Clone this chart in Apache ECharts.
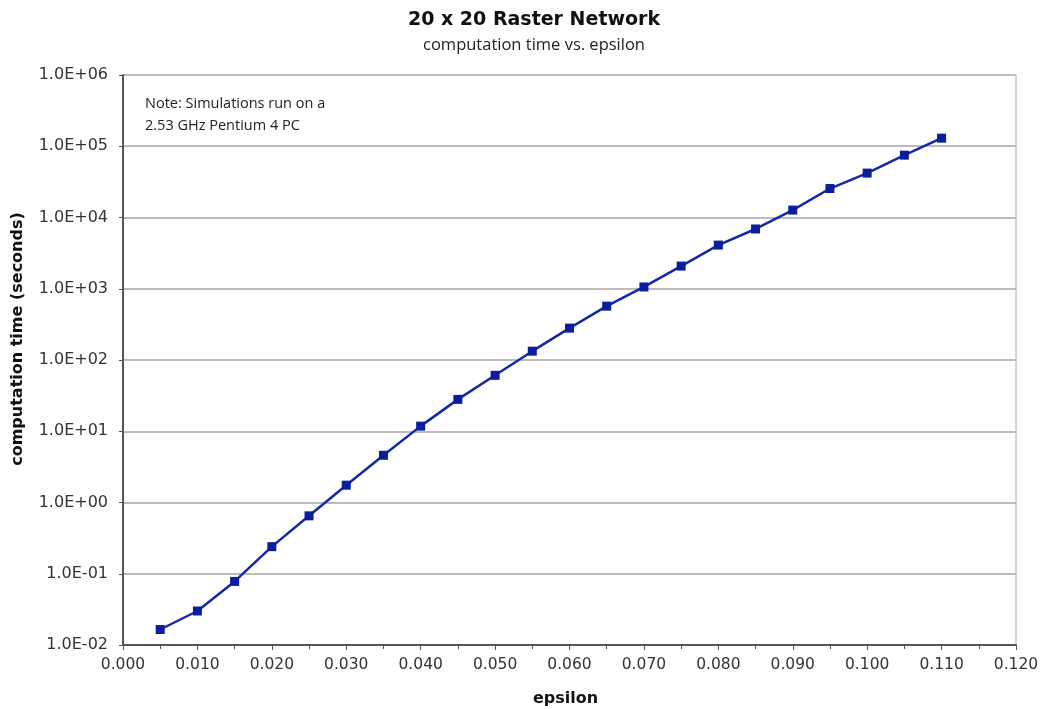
<!DOCTYPE html>
<html><head><meta charset="utf-8">
<script src="https://cdn.jsdelivr.net/npm/echarts@6/dist/echarts.min.js"></script>
<style>html,body{margin:0;padding:0;background:#fff}#c{width:1045px;height:709px}</style>
</head><body><div id="c"></div>
<script>
const epsilon = [0.005,0.010,0.015,0.020,0.025,0.030,0.035,0.040,0.045,0.050,0.055,0.060,0.065,0.070,0.075,0.080,0.085,0.090,0.095,0.100,0.105,0.110];
const computeTime = [0.0165,0.030,0.078,0.24,0.65,1.75,4.6,11.8,28,61,133,280,570,1060,2080,4100,6900,12700,25500,42000,75000,130000];
const titleText = '20 x 20 Raster Network';
const subtitleText = 'computation time vs. epsilon';
const noteLines = ['Note: Simulations run on a', '2.53 GHz Pentium 4 PC'];
const yName = 'computation time (seconds)';
const xName = 'epsilon';

function expFmt(v){
  const e = Math.round(Math.log10(v));
  const m = v / Math.pow(10, e);
  const s = e < 0 ? '-' : '+';
  const a = Math.abs(e);
  return m.toFixed(1) + 'E' + s + (a < 10 ? '0' + a : a);
}

const chart = echarts.init(document.getElementById('c'), null, {renderer:'canvas'});
chart.setOption({
  animation:false,
  backgroundColor:'#fff',
  title:[
    {text:titleText, left:529, top:6, textAlign:'center',
     textStyle:{fontFamily:'DejaVu Sans', fontWeight:'bold', fontSize:19, color:'#111'}},
    {text:subtitleText, left:529, top:32, textAlign:'center',
     textStyle:{fontFamily:'Open Sans', fontWeight:'normal', fontSize:16.5, color:'#222'}}
  ],
  graphic:[
    {type:'text', left:145, top:93, style:{text:noteLines.join('\n'), font:'14.5px "Open Sans"', fill:'#222', lineHeight:22}},
    {type:'text', x:18, y:339, rotation:Math.PI/2,
     style:{text:yName, font:'bold 16px "DejaVu Sans"', fill:'#111', align:'center', verticalAlign:'middle'}}
  ],
  grid:{left:123, right:29, top:75, bottom:64, show:true, borderColor:'#aaa', borderWidth:1,
        outerBoundsMode:'none', containLabel:false},
  xAxis:{
    type:'value', min:0, max:0.12, interval:0.01,
    name:xName, nameLocation:'middle', nameGap:46,
    nameTextStyle:{fontFamily:'DejaVu Sans', fontWeight:'bold', fontSize:16, color:'#111', padding:[0,8,0,0]},
    axisLine:{lineStyle:{color:'#555', width:2}},
    axisTick:{show:true, length:5, lineStyle:{color:'#555'}},
    minorTick:{show:true, splitNumber:2, length:4, lineStyle:{color:'#555'}},
    splitLine:{show:false},
    axisLabel:{fontFamily:'DejaVu Sans', fontSize:15.5, color:'#333', margin:12,
      formatter:v=>v.toFixed(3)}
  },
  yAxis:{
    type:'log', logBase:10, min:0.01, max:1e6,
    axisLine:{show:true, lineStyle:{color:'#555', width:2}},
    axisTick:{show:true, length:4, lineStyle:{color:'#555'}},
    splitLine:{show:true, lineStyle:{color:'#bbb', width:2}},
    axisLabel:{fontFamily:'DejaVu Sans', fontSize:16, color:'#333', margin:15, formatter:expFmt}
  },
  series:[{
    type:'line',
    data:epsilon.map((x,i)=>[x, computeTime[i]]),
    symbol:'rect', symbolSize:9,
    lineStyle:{color:'#1428a8', width:2.5},
    itemStyle:{color:'#0a1e9e'}
  }]
});
</script></body></html>
